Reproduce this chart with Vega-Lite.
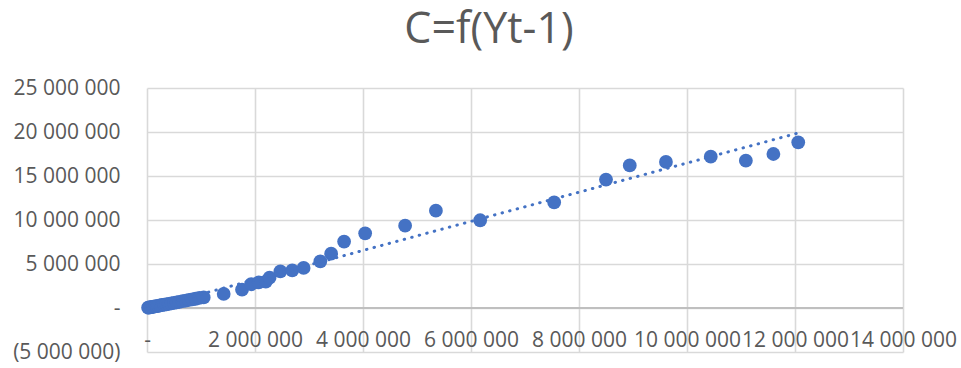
{
  "$schema": "https://vega.github.io/schema/vega-lite/v6.json",
  "autosize": "none",
  "width": 756,
  "height": 264,
  "padding": {"left": 147, "top": 88, "right": 58, "bottom": 16},
  "background": "white",
  "config": {
    "locale": {"number": {"decimal": ",", "thousands": " ", "grouping": [3], "currency": ["", ""]}},
    "view": {"stroke": null},
    "font": "Open Sans"
  },
  "title": {
    "text": "C=f(Yt-1)",
    "fontSize": 43,
    "font": "Open Sans",
    "fontWeight": "normal",
    "color": "#595959",
    "anchor": "middle",
    "dx": -36,
    "offset": 25
  },
  "data": {
    "values": [
      {"Y": 20000, "C": 30000},
      {"Y": 40000, "C": 60000},
      {"Y": 60000, "C": 80000},
      {"Y": 80000, "C": 100000},
      {"Y": 100000, "C": 130000},
      {"Y": 120000, "C": 150000},
      {"Y": 150000, "C": 180000},
      {"Y": 180000, "C": 220000},
      {"Y": 210000, "C": 250000},
      {"Y": 240000, "C": 300000},
      {"Y": 280000, "C": 340000},
      {"Y": 320000, "C": 380000},
      {"Y": 360000, "C": 420000},
      {"Y": 400000, "C": 470000},
      {"Y": 450000, "C": 520000},
      {"Y": 500000, "C": 580000},
      {"Y": 550000, "C": 630000},
      {"Y": 600000, "C": 700000},
      {"Y": 660000, "C": 780000},
      {"Y": 720000, "C": 850000},
      {"Y": 780000, "C": 920000},
      {"Y": 840000, "C": 980000},
      {"Y": 900000, "C": 1050000},
      {"Y": 970000, "C": 1150000},
      {"Y": 1050000, "C": 1200000},
      {"Y": 1420000, "C": 1600000},
      {"Y": 1760000, "C": 2080000},
      {"Y": 1930000, "C": 2700000},
      {"Y": 2070000, "C": 2900000},
      {"Y": 2200000, "C": 3000000},
      {"Y": 2270000, "C": 3450000},
      {"Y": 2470000, "C": 4170000},
      {"Y": 2690000, "C": 4280000},
      {"Y": 2900000, "C": 4550000},
      {"Y": 3210000, "C": 5300000},
      {"Y": 3410000, "C": 6170000},
      {"Y": 3650000, "C": 7550000},
      {"Y": 4040000, "C": 8490000},
      {"Y": 4780000, "C": 9350000},
      {"Y": 5350000, "C": 11060000},
      {"Y": 6170000, "C": 9970000},
      {"Y": 7540000, "C": 12000000},
      {"Y": 8500000, "C": 14600000},
      {"Y": 8940000, "C": 16200000},
      {"Y": 9610000, "C": 16600000},
      {"Y": 10440000, "C": 17200000},
      {"Y": 11090000, "C": 16740000},
      {"Y": 11600000, "C": 17500000},
      {"Y": 12060000, "C": 18830000}
    ]
  },
  "encoding": {
    "x": {
      "field": "Y",
      "type": "quantitative",
      "scale": {"domain": [0, 14000000], "nice": false, "zero": false},
      "axis": {
        "title": null,
        "values": [0, 2000000, 4000000, 6000000, 8000000, 10000000, 12000000, 14000000],
        "labelExpr": "datum.value == 0 ? '-' : format(datum.value, ',d')",
        "labelFont": "Open Sans",
        "labelFontSize": 21,
        "labelColor": "#595959",
        "labelBaseline": "alphabetic",
        "labelPadding": -6,
        "labelFlush": false,
        "labelOverlap": false,
        "ticks": false,
        "domain": false,
        "gridColor": "#d9d9d9",
        "gridWidth": 1.6
      }
    },
    "y": {
      "field": "C",
      "type": "quantitative",
      "scale": {"domain": [-5000000, 25000000], "nice": false, "zero": false},
      "axis": {
        "title": null,
        "values": [-5000000, 0, 5000000, 10000000, 15000000, 20000000, 25000000],
        "labelExpr": "datum.value == 0 ? '-' : (datum.value < 0 ? '(' + format(-datum.value, ',d') + ')' : format(datum.value, ',d'))",
        "labelFont": "Open Sans",
        "labelFontSize": 21,
        "labelColor": "#595959",
        "labelPadding": 27,
        "labelFlush": false,
        "labelOverlap": false,
        "ticks": false,
        "domain": false,
        "gridColor": "#d9d9d9",
        "gridWidth": 1.6
      }
    }
  },
  "layer": [
    {
      "mark": {"type": "rule", "color": "#bfbfbf", "strokeWidth": 1.6},
      "encoding": {"y": {"datum": 0}, "x": null}
    },
    {
      "mark": {"type": "circle", "color": "#4472C4", "opacity": 1, "size": 190}
    },
    {
      "transform": [{"regression": "C", "on": "Y", "method": "linear"}],
      "mark": {"type": "line", "color": "#4472C4", "strokeWidth": 3, "strokeCap": "round", "strokeDash": [0.5, 7.3]}
    }
  ]
}
